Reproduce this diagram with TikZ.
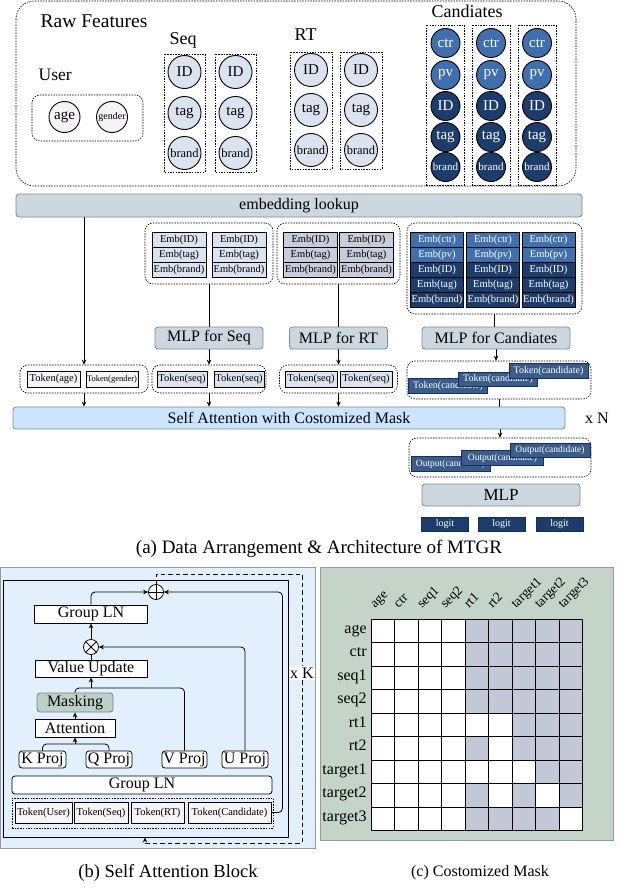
\documentclass[tikz,border=0pt]{standalone}
\usepackage{fontspec}
\setmainfont{Liberation Serif}
\usetikzlibrary{arrows.meta}

\newcommand{\setfs}[1]{\fontsize{#1}{#1}\selectfont}

\definecolor{lookupgray}{HTML}{CDD7E0}
\definecolor{edgegray}{HTML}{7F8A94}
\definecolor{seqblue}{HTML}{DCE3F0}
\definecolor{rtgray}{HTML}{C8CDDB}
\definecolor{candmid}{HTML}{3F6FAE}
\definecolor{canddark}{HTML}{1C3D6B}
\definecolor{tokblue}{HTML}{3A5C8C}
\definecolor{attnblue}{HTML}{CCE5FF}
\definecolor{userfill}{HTML}{F6F4F6}
\definecolor{panelblue}{HTML}{E2EFFC}
\definecolor{maskgreen}{HTML}{BBD0C6}
\definecolor{panelgreen}{HTML}{C4D4C8}
\definecolor{maskgray}{HTML}{C2C8D6}

\tikzset{
  feat/.style={circle, draw, line width=0.9pt, inner sep=0pt, minimum size=33pt, fill=seqblue, font=\setfs{15}},
  candfeat/.style={feat, minimum size=29pt, text=white},
  groupbox/.style={draw, dash pattern=on 1.5pt off 1.2pt, line width=0.6pt, rounded corners=8pt, inner sep=0pt},
  colbox/.style={draw, dash pattern=on 1.5pt off 1.2pt, line width=0.6pt},
  bar/.style={draw=edgegray, fill=lookupgray, rounded corners=3pt, inner sep=0pt, line width=0.8pt, font=\setfs{16}},
  emb/.style={draw, line width=0.9pt, minimum width=54pt, minimum height=15pt, inner sep=0pt, font=\setfs{10.5}},
  tok/.style={draw, line width=0.8pt, minimum height=16pt, inner sep=0pt, font=\setfs{10.5}},
  ctok/.style={draw=canddark!80!black, fill=tokblue, text=white, minimum width=79pt, minimum height=14.5pt, inner sep=0pt, font=\setfs{10}},
  blk/.style={draw, fill=white, minimum height=18pt, inner sep=0pt, font=\setfs{16}},
  proj/.style={blk, rounded corners=3pt, minimum height=17pt},
  op/.style={circle, draw, fill=white, minimum size=15pt, inner sep=0pt},
}

\begin{document}
\begin{tikzpicture}[x=1pt, y=-1pt, line width=0.8pt, >={Stealth[length=5pt,width=4.5pt]}]
  \useasboundingbox (0,0) rectangle (625,888);

  % Raw features
  \draw[groupbox, rounded corners=18pt] (16,1) rectangle (576,186);
  \node[anchor=base west, font=\setfs{19.5}] (rawtitle) at (37,28) {Raw Features};
  \node[anchor=base west, font=\setfs{17.5}] (usertitle) at (35,81) {User};
  \node[anchor=base west, font=\setfs{18}] (seqtitle) at (166,45) {Seq};
  \node[anchor=base west, font=\setfs{18}] (rttitle) at (291,41) {RT};
  \node[anchor=base west, font=\setfs{18}] (candtitle) at (428,18) {Candiates};

  \draw[groupbox] (32,95) rectangle (143,141);
  \node[feat, fill=userfill, minimum size=31pt] (age) at (64.5,117) {age};
  \node[feat, fill=userfill, minimum size=31pt, font=\setfs{10}] (gender) at (112,117) {gender};

  \foreach \c/\x in {1/184.5, 2/235.5} {
    \draw[colbox] (\x-20.5,54) rectangle (\x+20.5,172);
    \node[feat] (seqid\c) at (\x,72) {ID};
    \node[feat] (seqtag\c) at (\x,113) {tag};
    \node[feat, font=\setfs{12.5}] (seqbrand\c) at (\x,153) {brand};
  }
  \foreach \c/\x in {1/311, 2/361} {
    \draw[colbox] (\x-21,52) rectangle (\x+21,169);
    \node[feat] (rtid\c) at (\x,70) {ID};
    \node[feat] (rttag\c) at (\x,110) {tag};
    \node[feat, font=\setfs{12.5}] (rtbrand\c) at (\x,150) {brand};
  }
  \foreach \c/\x in {1/445.5, 2/491, 3/537} {
    \draw[colbox] (\x-19,25) rectangle (\x+19,185);
    \node[candfeat, fill=candmid] (candctr\c) at (\x,43) {ctr};
    \node[candfeat, fill=candmid] (candpv\c) at (\x,75) {pv};
    \node[candfeat, fill=canddark] (candid\c) at (\x,106) {ID};
    \node[candfeat, fill=canddark] (candtag\c) at (\x,137) {tag};
    \node[candfeat, fill=canddark, font=\setfs{11}] (candbrand\c) at (\x,167) {brand};
  }

  % Embedding
  \node[bar, minimum width=566pt, minimum height=23pt] (lookup) at (299,205.5) {embedding lookup};

  \node[groupbox, minimum width=128pt, minimum height=61pt] (seqemb) at (209,253.5) {};
  \foreach \c/\x in {1/179, 2/239} {
    \node[emb, fill=seqblue] (seqembid\c) at (\x,239.5) {Emb(ID)};
    \node[emb, fill=seqblue] (seqembtag\c) at (\x,254.5) {Emb(tag)};
    \node[emb, fill=seqblue] (seqembbrand\c) at (\x,269.5) {Emb(brand)};
  }
  \node[groupbox, minimum width=123pt, minimum height=61pt] (rtemb) at (338.5,253.5) {};
  \foreach \c/\x in {1/310.5, 2/366.5} {
    \node[emb, fill=rtgray] (rtembid\c) at (\x,239.5) {Emb(ID)};
    \node[emb, fill=rtgray] (rtembtag\c) at (\x,254.5) {Emb(tag)};
    \node[emb, fill=rtgray] (rtembbrand\c) at (\x,269.5) {Emb(brand)};
  }
  \node[groupbox, minimum width=175pt, minimum height=91pt] (candemb) at (494.5,268.5) {};
  \foreach \c/\x in {1/437, 2/493, 3/548.5} {
    \node[emb, minimum width=53pt, fill=candmid, text=white] (candembctr\c) at (\x,239.5) {Emb(ctr)};
    \node[emb, minimum width=53pt, fill=candmid, text=white] (candembpv\c) at (\x,254.5) {Emb(pv)};
    \node[emb, minimum width=53pt, fill=canddark, text=white] (candembid\c) at (\x,269.5) {Emb(ID)};
    \node[emb, minimum width=53pt, fill=canddark, text=white] (candembtag\c) at (\x,284.5) {Emb(tag)};
    \node[emb, minimum width=53pt, fill=canddark, text=white] (candembbrand\c) at (\x,299.5) {Emb(brand)};
  }

  % MLPs
  \node[bar, minimum width=108pt, minimum height=22pt] (mlpseq) at (209,338) {MLP for Seq};
  \node[bar, minimum width=98pt, minimum height=22pt] (mlprt) at (338.5,338) {MLP for RT};
  \node[bar, minimum width=148pt, minimum height=22pt] (mlpcand) at (496,338) {MLP for Candiates};
  \draw (seqemb.south) -- (mlpseq.north);
  \draw (rtemb.south) -- (mlprt.north);
  \draw (candemb.south) -- (candemb.south |- mlpcand.north);

  % Tokens
  \node[groupbox, minimum width=128pt, minimum height=28pt] (usertok) at (84,379) {};
  \node[tok, fill=userfill, minimum width=53pt] (tokage) at (53.5,379) {Token(age)};
  \node[tok, fill=userfill, minimum width=52pt, font=\setfs{8.5}] (tokgender) at (112,379) {Token(gender)};
  \node[groupbox, minimum width=114pt, minimum height=28pt] (seqtok) at (209,379) {};
  \node[tok, fill=seqblue, minimum width=50pt] (tokseq1) at (182,379) {Token(seq)};
  \node[tok, fill=seqblue, minimum width=50pt] (tokseq2) at (239,379) {Token(seq)};
  \node[groupbox, minimum width=118pt, minimum height=28pt] (rttok) at (338.5,379) {};
  \node[tok, fill=seqblue, minimum width=52pt] (tokrt1) at (311,379) {Token(seq)};
  \node[tok, fill=seqblue, minimum width=52pt] (tokrt2) at (366,379) {Token(seq)};
  \node[groupbox, minimum width=184pt, minimum height=38pt] (candtok) at (499,380) {};
  \node[ctok] (tokcand1) at (448,386) {Token(candidate)};
  \node[ctok] (tokcand2) at (498,379.5) {Token(candidate)};
  \node[ctok] (tokcand3) at (548.5,371) {Token(candidate)};

  \draw[->] (usertok.north |- lookup.south) -- (usertok.north);
  \draw[->] (mlpseq.south) -- (seqtok.north);
  \draw[->] (mlprt.south) -- (rttok.north);
  \draw[->] (mlpcand.south) -- (mlpcand.south |- candtok.north);

  % Self attention
  \node[bar, fill=attnblue, minimum width=552pt, minimum height=22pt] (selfattn) at (289,418) {Self Attention with Costomized Mask};
  \node[font=\setfs{16}] (timesn) at (597,418) {x N};
  \draw[->] (usertok.south) -- (usertok.south |- selfattn.north);
  \draw[->] (seqtok.south) -- (seqtok.south |- selfattn.north);
  \draw[->] (rttok.south) -- (rttok.south |- selfattn.north);
  \draw (candtok.south) -- (candtok.south |- selfattn.north);

  % Outputs
  \node[groupbox, minimum width=182pt, minimum height=39pt] (outgroup) at (500,457.5) {};
  \node[ctok, font=\setfs{9.5}] (out1) at (450.5,464) {Output(candidate)};
  \node[ctok, font=\setfs{9.5}, minimum width=82pt] (out2) at (502.5,458) {Output(candidate)};
  \node[ctok, font=\setfs{9.5}, minimum width=80pt] (out3) at (550,450.5) {Output(candidate)};
  \draw[->] (selfattn.south -| outgroup.north) -- (outgroup.north);

  \node[bar, minimum width=158pt, minimum height=22pt, font=\setfs{17}] (mlpout) at (501,495) {MLP};
  \foreach \c/\x in {1/445, 2/501.5, 3/559.5}
    \node[ctok, fill=canddark, minimum width=47pt, minimum height=14pt] (logit\c) at (\x,524) {logit};

  \node[font=\setfs{19}] (capa) at (319,549) {(a) Data Arrangement \& Architecture of MTGR};

  % (b) Self attention block
  \draw[draw=black!40, fill=panelblue] (0.5,567) rectangle (315,848);
  \node[draw, line width=0.9pt, minimum width=285pt, minimum height=257pt, inner sep=0pt] (block) at (145.5,708.5) {};

  \node[op] (add) at (156,592) {};
  \draw (add.north) -- (add.south) (add.west) -- (add.east);
  \node[op] (mul) at (91,647) {};
  \draw (mul.north west) -- (mul.south east) (mul.north east) -- (mul.south west);

  \node[blk, minimum width=113pt] (lntop) at (91,614) {Group LN};
  \node[blk, minimum width=112pt, minimum height=17pt] (valup) at (91,668.5) {Value Update};
  \node[blk, draw=black!50, fill=maskgreen, rounded corners=3pt, minimum width=76pt, minimum height=19pt] (masking) at (75,702.5) {Masking};
  \node[blk, minimum width=80pt] (attn) at (75,728) {Attention};
  \node[proj, minimum width=47pt] (kproj) at (42.5,759.5) {K Proj};
  \node[proj, minimum width=46pt] (qproj) at (109,759.5) {Q Proj};
  \node[proj, minimum width=45pt] (vproj) at (184.5,759.5) {V Proj};
  \node[proj, minimum width=46pt] (uproj) at (245,759.5) {U Proj};
  \node[blk, rounded corners=3pt, minimum width=260pt] (lnlow) at (142,785) {Group LN};

  \node[groupbox, rounded corners=0pt, minimum width=261pt, minimum height=30pt] (tokgroup) at (142.5,813) {};
  \node[tok, fill=userfill, minimum width=57pt, minimum height=21pt] (tokuser) at (43.5,812.5) {Token(User)};
  \node[tok, fill=userfill, minimum width=54pt, minimum height=21pt] (tokseqb) at (101,812.5) {Token(Seq)};
  \node[tok, fill=userfill, minimum width=53pt, minimum height=21pt] (tokrtb) at (157.5,812.5) {Token(RT)};
  \node[tok, fill=userfill, minimum width=83pt, minimum height=21pt] (tokcandb) at (229.5,812.5) {Token(Candidate)};

  \coordinate (kqjoin) at (75,744);
  \draw[rounded corners=4pt] (kproj.north) |- (kqjoin) -| (qproj.north);
  \draw[->] (kqjoin) -- (attn.south);
  \draw[->] (attn.north) -- (masking.south);
  \coordinate (mvjoin) at (91,688);
  \draw[rounded corners=4pt] (masking.north) |- (mvjoin) -| (vproj.north);
  \draw[->] (mvjoin) -- (valup.south);
  \draw (valup.north) -- (mul.south);
  \draw[->, rounded corners=4pt] (uproj.north) |- (mul.east);
  \draw[->] (mul.north) -- (lntop.south);
  \draw[->, rounded corners=4pt] (lntop.north) |- (add.west);
  \draw[->, rounded corners=4pt] (tokcandb.east) -- ++(11,0) |- (add.east);

  \coordinate (loopne) at (302,574);
  \coordinate (loopsw) at (145,843);
  \draw[->, line width=1pt, dash pattern=on 4.5pt off 3pt] (add.north) |- (loopne) |- (loopsw) -- (loopsw |- block.south);
  \node[fill=white, font=\setfs{16}, inner sep=1.5pt] (timesk) at (302,673) {x K};

  \node[font=\setfs{18.5}] (capb) at (168,873) {(b) Self Attention Block};

  % (c) Mask
  \draw[draw=black!40, fill=panelgreen] (320,567) rectangle (613,840);
  \fill[white] (371,619) rectangle (582.5,830.5);
  \foreach \maskrow [count=\ri] in {{0,0,0,0,1,1,1,1,1},{0,0,0,0,1,1,1,1,1},{0,0,0,0,1,1,1,1,1},{0,0,0,0,1,1,1,1,1},{0,0,0,0,0,0,1,1,1},{0,0,0,0,1,0,1,1,1},{0,0,0,0,0,0,0,1,1},{0,0,0,0,1,0,1,0,1},{0,0,0,0,1,1,1,1,0}} {
    \foreach \v [count=\ci] in \maskrow {
      \ifnum\v=1 \fill[maskgray] ({371+(\ci-1)*23.5},{619+(\ri-1)*23.5}) rectangle ++(23.5,23.5); \fi
    }
  }
  \foreach \i in {0,...,9} {
    \draw ({371+\i*23.5},619) -- ({371+\i*23.5},830.5);
    \draw (371,{619+\i*23.5}) -- (582.5,{619+\i*23.5});
  }
  \foreach \lab [count=\k] in {age,ctr,seq1,seq2,rt1,rt2,target1,target2,target3} {
    \node[anchor=mid east, inner sep=0pt, font=\setfs{16}] (row\k) at (367,{619+(\k-0.5)*23.5}) {\lab};
    \node[anchor=base west, rotate=45, inner sep=0pt, font=\setfs{13.5}] (col\k) at ({371+(\k-0.5)*23.5-8},609) {\lab};
  }

  \node[font=\setfs{16}] (capc) at (480,873) {(c) Costomized Mask};
\end{tikzpicture}
\end{document}
